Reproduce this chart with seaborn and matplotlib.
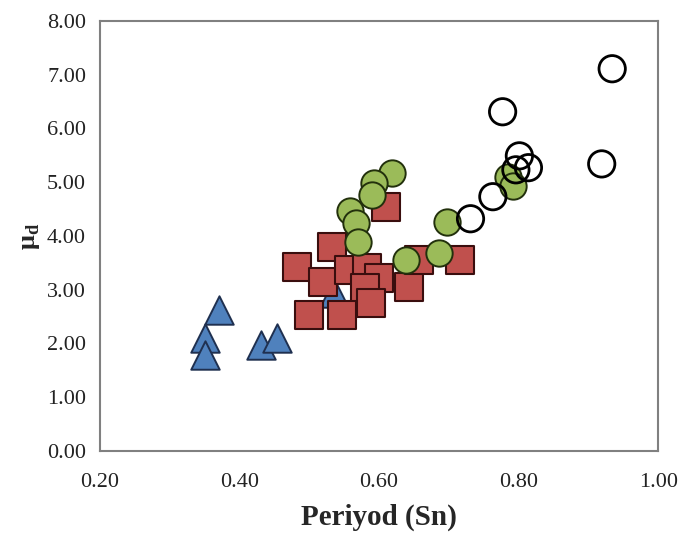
import matplotlib
matplotlib.use("Agg")
import matplotlib.pyplot as plt
import seaborn as sns

# Period (s) and mu_d values for each group of records
tri_x = [0.370, 0.350, 0.350, 0.431, 0.454, 0.536]
tri_y = [2.62, 2.10, 1.79, 1.97, 2.10, 2.94]

sq_x = [0.610, 0.533, 0.483, 0.519, 0.557, 0.583, 0.600, 0.580, 0.589, 0.500, 0.547, 0.643, 0.657, 0.716]
sq_y = [4.54, 3.80, 3.42, 3.14, 3.37, 3.40, 3.22, 3.03, 2.75, 2.53, 2.53, 3.05, 3.55, 3.55]

gr_x = [0.619, 0.593, 0.590, 0.559, 0.567, 0.570, 0.639, 0.686, 0.697, 0.785, 0.792]
gr_y = [5.17, 4.99, 4.76, 4.47, 4.24, 3.89, 3.55, 3.68, 4.26, 5.10, 4.93]

wh_x = [0.934, 0.777, 0.801, 0.814, 0.796, 0.919, 0.763, 0.731]
wh_y = [7.11, 6.31, 5.49, 5.27, 5.23, 5.34, 4.73, 4.32]

x_ticks = [0.20, 0.40, 0.60, 0.80, 1.00]
y_ticks = [0, 1, 2, 3, 4, 5, 6, 7, 8]

sns.set_style("white")
plt.rcParams["font.family"] = ["Liberation Serif", "DejaVu Serif"]

fig = plt.figure(figsize=(6.8, 5.5), dpi=100)
ax = fig.add_axes([0.147, 0.18, 0.821, 0.782])

sns.scatterplot(x=tri_x, y=tri_y, marker="^", s=420, color="#4F81BD",
                edgecolor="#1F3050", linewidth=1.4, ax=ax, zorder=2)
sns.scatterplot(x=sq_x, y=sq_y, marker="s", s=400, color="#C0504D",
                edgecolor="#3A0E0E", linewidth=1.5, ax=ax, zorder=3)
sns.scatterplot(x=gr_x, y=gr_y, marker="o", s=360, color="#9BBB59",
                edgecolor="#22300C", linewidth=1.4, ax=ax, zorder=4)
sns.scatterplot(x=wh_x, y=wh_y, marker="o", s=360, facecolor="none",
                edgecolor="black", linewidth=2.0, ax=ax, zorder=5)

ax.set_xlim(0.2, 1.0)
ax.set_ylim(0, 8)
ax.set_xticks(x_ticks)
ax.set_yticks(y_ticks)
ax.set_xticklabels([f"{v:.2f}" for v in x_ticks])
ax.set_yticklabels([f"{v:.2f}" for v in y_ticks])
ax.tick_params(axis="both", length=0, labelsize=16, colors="#222222")
ax.tick_params(axis="x", pad=16)
ax.tick_params(axis="y", pad=10)

for sp in ax.spines.values():
    sp.set_color("#808080")
    sp.set_linewidth(1.5)

ax.set_xlabel("Periyod (Sn)", fontsize=21, fontweight="bold", labelpad=8)
ax.set_ylabel("μ$_\\mathregular{d}$", fontsize=19, fontweight="bold", labelpad=4)

fig.savefig("out.png", dpi=100)
